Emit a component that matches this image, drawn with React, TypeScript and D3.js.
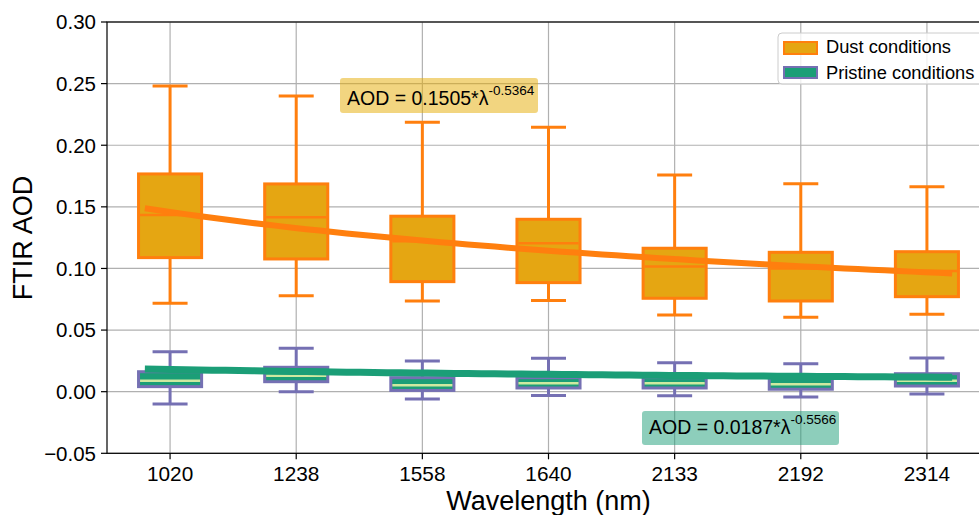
import React from "react";
import * as d3 from "d3";

const categories = ["1020", "1238", "1558", "1640", "2133", "2192", "2314"];
const wavelengths = [1020, 1238, 1558, 1640, 2133, 2192, 2314];

// Dust conditions: [whiskerLow, q1, median, q3, whiskerHigh]
const dustLow = [0.0717, 0.0779, 0.0736, 0.0739, 0.0623, 0.0604, 0.0628];
const dustQ1 = [0.1088, 0.1077, 0.0893, 0.0885, 0.0758, 0.0736, 0.0771];
const dustMed = [0.1434, 0.1416, 0.1220, 0.1205, 0.1015, 0.1000, 0.0980];
const dustQ3 = [0.1767, 0.1686, 0.1424, 0.1399, 0.1164, 0.1131, 0.1136];
const dustHigh = [0.2480, 0.2400, 0.2187, 0.2146, 0.1759, 0.1688, 0.1664];

// Pristine conditions
const priLow = [-0.0100, 0.0000, -0.0060, -0.0030, -0.0032, -0.0043, -0.0019];
const priQ1 = [0.0041, 0.0081, 0.0010, 0.0030, 0.0030, 0.0020, 0.0046];
const priMed = [0.0089, 0.0130, 0.0052, 0.0068, 0.0068, 0.0060, 0.0089];
const priQ3 = [0.0162, 0.0198, 0.0114, 0.0114, 0.0114, 0.0114, 0.0146];
const priHigh = [0.0325, 0.0352, 0.0249, 0.0271, 0.0235, 0.0227, 0.0274];

const yTicks = [-0.05, 0.0, 0.05, 0.1, 0.15, 0.2, 0.25, 0.3];

const dustFit = { a: 0.1505, b: -0.5364 };
const priFit = { a: 0.0187, b: -0.5566 };

const W = 979;
const H = 515;
const left = 107;
const right = 990;
const top = 22;
const bottom = 453.3;

const FONT = "'Liberation Sans', Arial, sans-serif";

export default function App() {
  const x = d3.scaleLinear().domain([0.5, 7.5]).range([left, right]);
  const y = d3.scaleLinear().domain([-0.05, 0.3]).range([bottom, top]);
  const boxW = x(1.25) - x(0.75);
  const capW = 35;

  const fitPts = (fit: { a: number; b: number }) => {
    const pts: [number, number][] = [];
    const n = 60;
    for (let i = 0; i <= n; i++) {
      const p = 0.8 + (6.4 * i) / n;
      const lam = (wavelengths[0] + ((wavelengths[6] - wavelengths[0]) * (p - 0.8)) / 6.4) / 1000;
      pts.push([x(p), y(fit.a * Math.pow(lam, fit.b))]);
    }
    return d3.line()(pts) || "";
  };

  const boxes = (
    low: number[], q1: number[], med: number[], q3: number[], high: number[],
    fill: string, edge: string, medColor: string, key: string
  ) =>
    categories.map((c, i) => {
      const cx = x(i + 1);
      return (
        <g key={key + c}>
          <line x1={cx} x2={cx} y1={y(q1[i])} y2={y(low[i])} stroke={edge} strokeWidth={3} />
          <line x1={cx} x2={cx} y1={y(q3[i])} y2={y(high[i])} stroke={edge} strokeWidth={3} />
          <line x1={cx - capW / 2} x2={cx + capW / 2} y1={y(low[i])} y2={y(low[i])} stroke={edge} strokeWidth={3} />
          <line x1={cx - capW / 2} x2={cx + capW / 2} y1={y(high[i])} y2={y(high[i])} stroke={edge} strokeWidth={3} />
          <rect x={cx - boxW / 2} y={y(q3[i])} width={boxW} height={y(q1[i]) - y(q3[i])}
            fill={fill} stroke={edge} strokeWidth={3} />
          <line x1={cx - boxW / 2 + 1.5} x2={cx + boxW / 2 - 1.5} y1={y(med[i])} y2={y(med[i])}
            stroke={medColor} strokeWidth={2.5} />
        </g>
      );
    });

  return (
    <svg width={W} height={H} style={{ position: "absolute", left: 0, top: 0 }} fontFamily={FONT}>
      <rect width={W} height={H} fill="#fff" />
      {/* grid */}
      {yTicks.map((t) => (
        <line key={"gy" + t} x1={left} x2={right} y1={y(t)} y2={y(t)} stroke="#b0b0b0" strokeWidth={1.2} />
      ))}
      {categories.map((c, i) => (
        <line key={"gx" + c} x1={x(i + 1)} x2={x(i + 1)} y1={top} y2={bottom} stroke="#b0b0b0" strokeWidth={1.2} />
      ))}

      {boxes(dustLow, dustQ1, dustMed, dustQ3, dustHigh, "#e5a612", "#ff7f0e", "#ff7f0e", "d")}
      {boxes(priLow, priQ1, priMed, priQ3, priHigh, "#1b9e77", "#7570b3", "#cfe9a0", "p")}

      <path d={fitPts(dustFit)} fill="none" stroke="#ff7f0e" strokeWidth={6} />
      <path d={fitPts(priFit)} fill="none" stroke="#1b9e77" strokeWidth={7} />

      {/* spines */}
      <rect x={left} y={top} width={right - left} height={bottom - top} fill="none" stroke="#000" strokeWidth={1.2} />

      {/* y ticks */}
      {yTicks.map((t) => (
        <g key={"yt" + t}>
          <line x1={left - 6} x2={left} y1={y(t)} y2={y(t)} stroke="#000" strokeWidth={1.2} />
          <text x={left - 11} y={y(t)} dy="0.36em" textAnchor="end" fontSize={20.5} fill="#000">
            {t < 0 ? "\u2212" + Math.abs(t).toFixed(2) : t.toFixed(2)}
          </text>
        </g>
      ))}
      {/* x ticks */}
      {categories.map((c, i) => (
        <g key={"xt" + c}>
          <line x1={x(i + 1)} x2={x(i + 1)} y1={bottom} y2={bottom + 6} stroke="#000" strokeWidth={1.2} />
          <text x={x(i + 1)} y={480.5} textAnchor="middle" fontSize={20.8} fill="#000">{c}</text>
        </g>
      ))}

      <text x={(left + right) / 2} y={510} textAnchor="middle" fontSize={27} fill="#000">Wavelength (nm)</text>
      <text transform={`translate(32,238) rotate(-90)`} textAnchor="middle" fontSize={27} fill="#000">FTIR AOD</text>

      {/* annotations */}
      <rect x={340} y={78} width={198} height={35} rx={3} fill="#e6ab02" fillOpacity={0.5} />
      <text x={347} y={105} fontSize={19.5} fill="#000">
        AOD = 0.1505*λ<tspan dy={-10} fontSize={13.5}>-0.5364</tspan>
      </text>
      <rect x={642} y={411} width={197} height={34} rx={3} fill="#1b9e77" fillOpacity={0.5} />
      <text x={649} y={434} fontSize={19.5} fill="#000">
        AOD = 0.0187*λ<tspan dy={-10} fontSize={13.5}>-0.5566</tspan>
      </text>

      {/* legend */}
      <rect x={778} y={33} width={220} height={51} rx={4} fill="#fff" fillOpacity={0.8} stroke="#cccccc" strokeWidth={1} />
      <rect x={784} y={42} width={33} height={12} fill="#e5a612" stroke="#ff7f0e" strokeWidth={2} />
      <text x={826} y={53} fontSize={18.3} fill="#000">Dust conditions</text>
      <rect x={784} y={67} width={33} height={11} fill="#1b9e77" stroke="#7570b3" strokeWidth={2} />
      <text x={826} y={79} fontSize={18.3} fill="#000">Pristine conditions</text>
    </svg>
  );
}
